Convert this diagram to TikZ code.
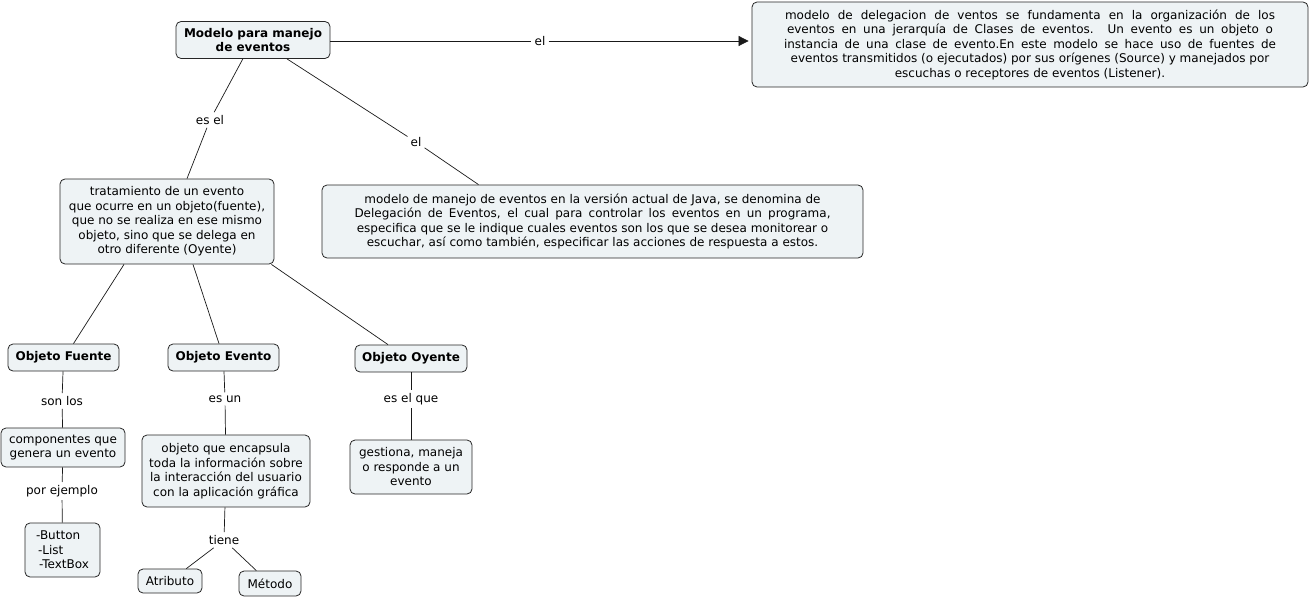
\documentclass[tikz,border=0pt]{standalone}
\usepackage{fontspec}
\setmainfont{DejaVu Sans}
\usetikzlibrary{arrows.meta}
\definecolor{cajafondo}{RGB}{238,243,245}
\tikzset{
  concepto/.style={draw=black!85, fill=cajafondo, rounded corners=5pt, align=center,
    inner sep=2pt, line width=0.8pt, font=\fontsize{12}{14.5}\selectfont},
  titulo/.style={concepto, font=\fontsize{12}{14.5}\selectfont\bfseries},
  enlace/.style={inner sep=3pt, font=\fontsize{12}{13}\selectfont},
  linea/.style={line width=0.7pt, black!90}
}
\newcommand{\renglon}[2]{\makebox[#1][s]{#2}}
\begin{document}
\begin{tikzpicture}[x=1pt,y=-1pt]
    \useasboundingbox (0,0) rectangle (1311,599);

    % conceptos
    \node[titulo, minimum width=154pt, minimum height=37pt] (modelo) at (253,40)
        {Modelo para manejo\\de eventos};
    \node[concepto, minimum width=556pt, minimum height=85pt] (delegacion) at (1030,44.5)
        {\renglon{490pt}{modelo de delegacion de ventos se fundamenta en la organización de los}\\
         \renglon{486pt}{eventos en una jerarquía de Clases de eventos. Un evento es un objeto o}\\
         \renglon{492pt}{instancia de una clase de evento.En este modelo se hace uso de fuentes de}\\
         eventos transmitidos (o ejecutados) por sus orígenes (Source) y manejados por\\
         escuchas o receptores de eventos (Listener).};
    \node[concepto, minimum width=541pt, minimum height=73pt] (java) at (592.5,221.5)
        {modelo de manejo de eventos en la versión actual de Java, se denomina de\\
         \renglon{476pt}{Delegación de Eventos, el cual para controlar los eventos en un programa,}\\
         especifica que se le indique cuales eventos son los que se desea monitorear o\\
         escuchar, así como también, especificar las acciones de respuesta a estos.};
    \node[concepto, minimum width=214pt, minimum height=85pt] (tratamiento) at (167,221.5)
        {tratamiento de un evento\\que ocurre en un objeto(fuente),\\que no se realiza en ese mismo\\
         objeto, sino que se delega en\\otro diferente (Oyente)};

    \node[titulo, minimum width=111pt, minimum height=27pt] (fuente) at (63.5,357.5) {Objeto Fuente};
    \node[titulo, minimum width=111pt, minimum height=27pt] (evento) at (223.5,357.5) {Objeto Evento};
    \node[titulo, minimum width=112pt, minimum height=27pt] (oyente) at (411,358.5) {Objeto Oyente};

    \node[concepto, minimum width=124pt, minimum height=39pt] (componentes) at (63,447.5)
        {componentes que\\genera un evento};
    \node[concepto, align=left, minimum width=75pt, minimum height=54pt] (botones) at (62.5,550)
        {-Button\\ \hspace{2pt}-List\\ \hspace{3pt}-TextBox};
    \node[concepto, minimum width=168pt, minimum height=72pt] (encapsula) at (226,471)
        {objeto que encapsula\\toda la información sobre\\la interacción del usuario\\con la aplicación gráfica};
    \node[concepto, minimum width=122pt, minimum height=54pt] (gestiona) at (411,467)
        {gestiona, maneja\\o responde a un\\evento};
    \node[concepto, minimum width=64pt, minimum height=24pt] (atributo) at (170,581) {Atributo};
    \node[concepto, minimum width=62pt, minimum height=25pt] (metodo) at (270,583.5) {Método};

    % frases de enlace
    \node[enlace] (el1) at (540,41) {el};
    \node[enlace] (esel) at (210,120) {es el};
    \node[enlace] (el2) at (416,142) {el};
    \node[enlace] (sonlos) at (62,401) {son los};
    \node[enlace] (porejemplo) at (62,491) {por ejemplo};
    \node[enlace] (esun) at (225,399) {es un};
    \node[enlace] (tiene) at (224,540) {tiene};
    \node[enlace] (esque) at (411,399) {es el que};

    % conexiones
    \draw[linea] (modelo.east |- el1) -- (el1);
    \draw[linea, -{Triangle[length=10pt,width=10pt]}, shorten >=3pt] (el1) -- (delegacion.west |- el1);
    \draw[linea] (modelo) -- (esel) -- ([xshift=20pt]tratamiento.north);
    \draw[linea] ([xshift=34pt]modelo.south) -- (el2) -- ([xshift=-114pt]java.north);

    \draw[linea] ([xshift=-43pt]tratamiento.south) -- ([xshift=10pt]fuente.north);
    \draw[linea] ([xshift=26pt]tratamiento.south) -- ([xshift=-4.5pt]evento.north);
    \draw[linea] ([xshift=-3pt]tratamiento.south east) -- ([xshift=-23pt]oyente.north);

    \draw[linea] (fuente) -- (sonlos) -- (componentes);
    \draw[linea] (componentes) -- (porejemplo) -- (botones);
    \draw[linea] (evento) -- (esun) -- (encapsula);
    \draw[linea] (encapsula) -- (tiene);
    \draw[linea] (tiene) -- (atributo);
    \draw[linea] (tiene) -- (metodo);
    \draw[linea] (oyente) -- (esque) -- (gestiona);
\end{tikzpicture}
\end{document}
